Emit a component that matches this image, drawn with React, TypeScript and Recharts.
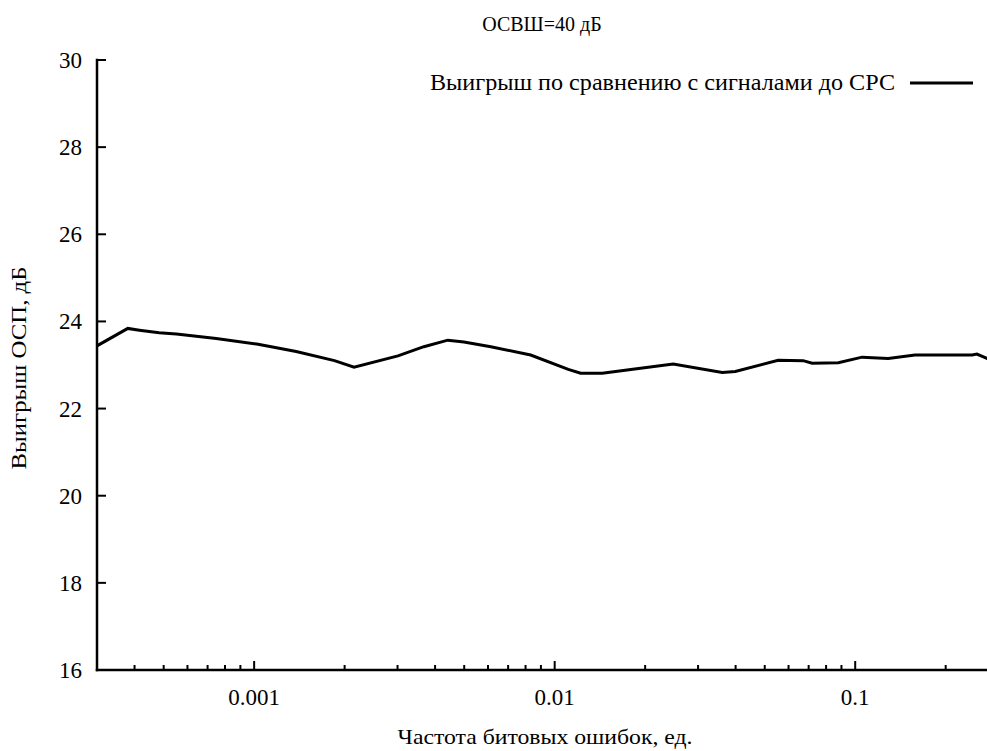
import React from 'react';
import { ComposedChart, Line, XAxis, YAxis, Legend } from 'recharts';

// BER (x, log scale) and OSP gain in dB
const berValues = [
  0.0003, 0.00038, 0.000415, 0.000483, 0.000551, 0.000748, 0.00102, 0.00138, 0.00185, 0.00215,
  0.00301, 0.00367, 0.00441, 0.00499, 0.00613, 0.00832, 0.0111, 0.0122, 0.0144, 0.0182,
  0.0248, 0.0361, 0.0399, 0.0554, 0.0671, 0.0719, 0.0879, 0.1054, 0.1288, 0.158,
  0.245, 0.254, 0.275, 0.3,
];
const gainValues = [
  23.44, 23.84, 23.8, 23.74, 23.71, 23.61, 23.48, 23.31, 23.1, 22.95,
  23.21, 23.42, 23.57, 23.53, 23.42, 23.23, 22.9, 22.81, 22.81, 22.9,
  23.02, 22.83, 22.85, 23.11, 23.1, 23.04, 23.05, 23.18, 23.15, 23.23,
  23.23, 23.25, 23.15, 23.12,
];

const xMajorTicks = [0.001, 0.01, 0.1];
const xAllTicks = [
  0.0004, 0.0005, 0.0006, 0.0007, 0.0008, 0.0009, 0.001,
  0.002, 0.003, 0.004, 0.005, 0.006, 0.007, 0.008, 0.009, 0.01,
  0.02, 0.03, 0.04, 0.05, 0.06, 0.07, 0.08, 0.09, 0.1,
  0.2, 0.3,
];
const yTicks = [16, 18, 20, 22, 24, 26, 28, 30];

const seriesName = 'Выигрыш по сравнению с сигналами до СРС';
const titleText = 'ОСВШ=40 дБ';
const xTitle = 'Частота битовых ошибок, ед.';
const yTitle = 'Выигрыш ОСП, дБ';

const data = berValues.map((ber, i) => ({ ber, gain: gainValues[i] }));

const FONT = "'Liberation Serif', 'Times New Roman', serif";
const txt = { fontFamily: FONT };
const BOTTOM_MARGIN = 20;

const BottomTick = (props: any) => {
  const { x, y, payload } = props;
  const axisY = y - BOTTOM_MARGIN;
  const major = xMajorTicks.includes(payload.value);
  return (
    <g>
      <line x1={x} x2={x} y1={axisY} y2={axisY - (major ? 9 : 5)} stroke="#000" strokeWidth={2} />
      {major && (
        <text x={x} y={axisY + 35} textAnchor="middle" fontSize={23} style={txt} fill="#000">
          {String(payload.value)}
        </text>
      )}
    </g>
  );
};

const TopTick = (props: any) => {
  const { x, y, payload } = props;
  const major = xMajorTicks.includes(payload.value);
  return <line x1={x} x2={x} y1={y} y2={y + (major ? 9 : 5)} stroke="#000" strokeWidth={2} />;
};

const LeftTick = (props: any) => {
  const { x, y, payload } = props;
  const axisX = x + 15;
  return (
    <g>
      <line x1={axisX} x2={axisX + 9} y1={y} y2={y} stroke="#000" strokeWidth={2} />
      <text x={x} y={y + 8} textAnchor="end" fontSize={23} style={txt} fill="#000">
        {payload.value}
      </text>
    </g>
  );
};

const LegendBox = () => (
  <svg width={593} height={30} style={{ display: 'block' }}>
    <text x={515} y={22} textAnchor="end" fontSize={23} textLength={465} lengthAdjust="spacingAndGlyphs" style={txt} fill="#000">
      {seriesName}
    </text>
    <line x1={530} x2={593} y1={15} y2={15} stroke="#000" strokeWidth={3} />
  </svg>
);

export default function App() {
  return (
    <div style={{ position: 'absolute', left: 0, top: 0, width: 987, height: 751, overflow: 'hidden', background: '#fff' }}>
      <svg width={987} height={40} style={{ position: 'absolute', left: 0, top: 0 }}>
        <text x={542} y={31} textAnchor="middle" fontSize={20} style={txt} fill="#000">
          {titleText}
        </text>
      </svg>
      <ComposedChart width={1000} height={751} data={data} margin={{ top: 60, right: 1.4, bottom: 0, left: 0 }}>
        <XAxis
          dataKey="ber"
          type="number"
          scale="log"
          domain={[0.0003, 0.3]}
          allowDataOverflow
          ticks={xAllTicks}
          interval={0}
          height={81}
          tickSize={0}
          tickMargin={BOTTOM_MARGIN}
          tickLine={false}
          tick={<BottomTick />}
          axisLine={{ stroke: '#000', strokeWidth: 2.5, strokeLinecap: 'square' }}
          label={() => (
            <text x={545} y={744} textAnchor="middle" fontSize={22} textLength={295} lengthAdjust="spacingAndGlyphs" style={txt} fill="#000">
              {xTitle}
            </text>
          )}
        />
        <XAxis
          xAxisId="top"
          orientation="top"
          dataKey="ber"
          type="number"
          scale="log"
          domain={[0.0003, 0.3]}
          allowDataOverflow
          ticks={xAllTicks}
          interval={0}
          height={0}
          tickSize={0}
          tickMargin={0}
          tickLine={false}
          tick={<TopTick />}
          axisLine={{ stroke: '#000', strokeWidth: 2.5, strokeLinecap: 'square' }}
        />
        <YAxis
          type="number"
          domain={[16, 30]}
          ticks={yTicks}
          interval={0}
          width={97}
          tickSize={0}
          tickMargin={15}
          tickLine={false}
          tick={<LeftTick />}
          axisLine={{ stroke: '#000', strokeWidth: 2.5, strokeLinecap: 'square' }}
          label={() => (
            <text transform="translate(26,368) rotate(-90)" textAnchor="middle" fontSize={22} textLength={203} lengthAdjust="spacingAndGlyphs" style={txt} fill="#000">
              {yTitle}
            </text>
          )}
        />
        <Legend
          layout="vertical"
          align="center"
          verticalAlign="middle"
          content={<LegendBox />}
          wrapperStyle={{ top: 68, left: 380, width: 593 }}
        />
        <Line
          type="linear"
          dataKey="gain"
          name={seriesName}
          stroke="#000"
          strokeWidth={3}
          dot={false}
          isAnimationActive={false}
        />
      </ComposedChart>
    </div>
  );
}
